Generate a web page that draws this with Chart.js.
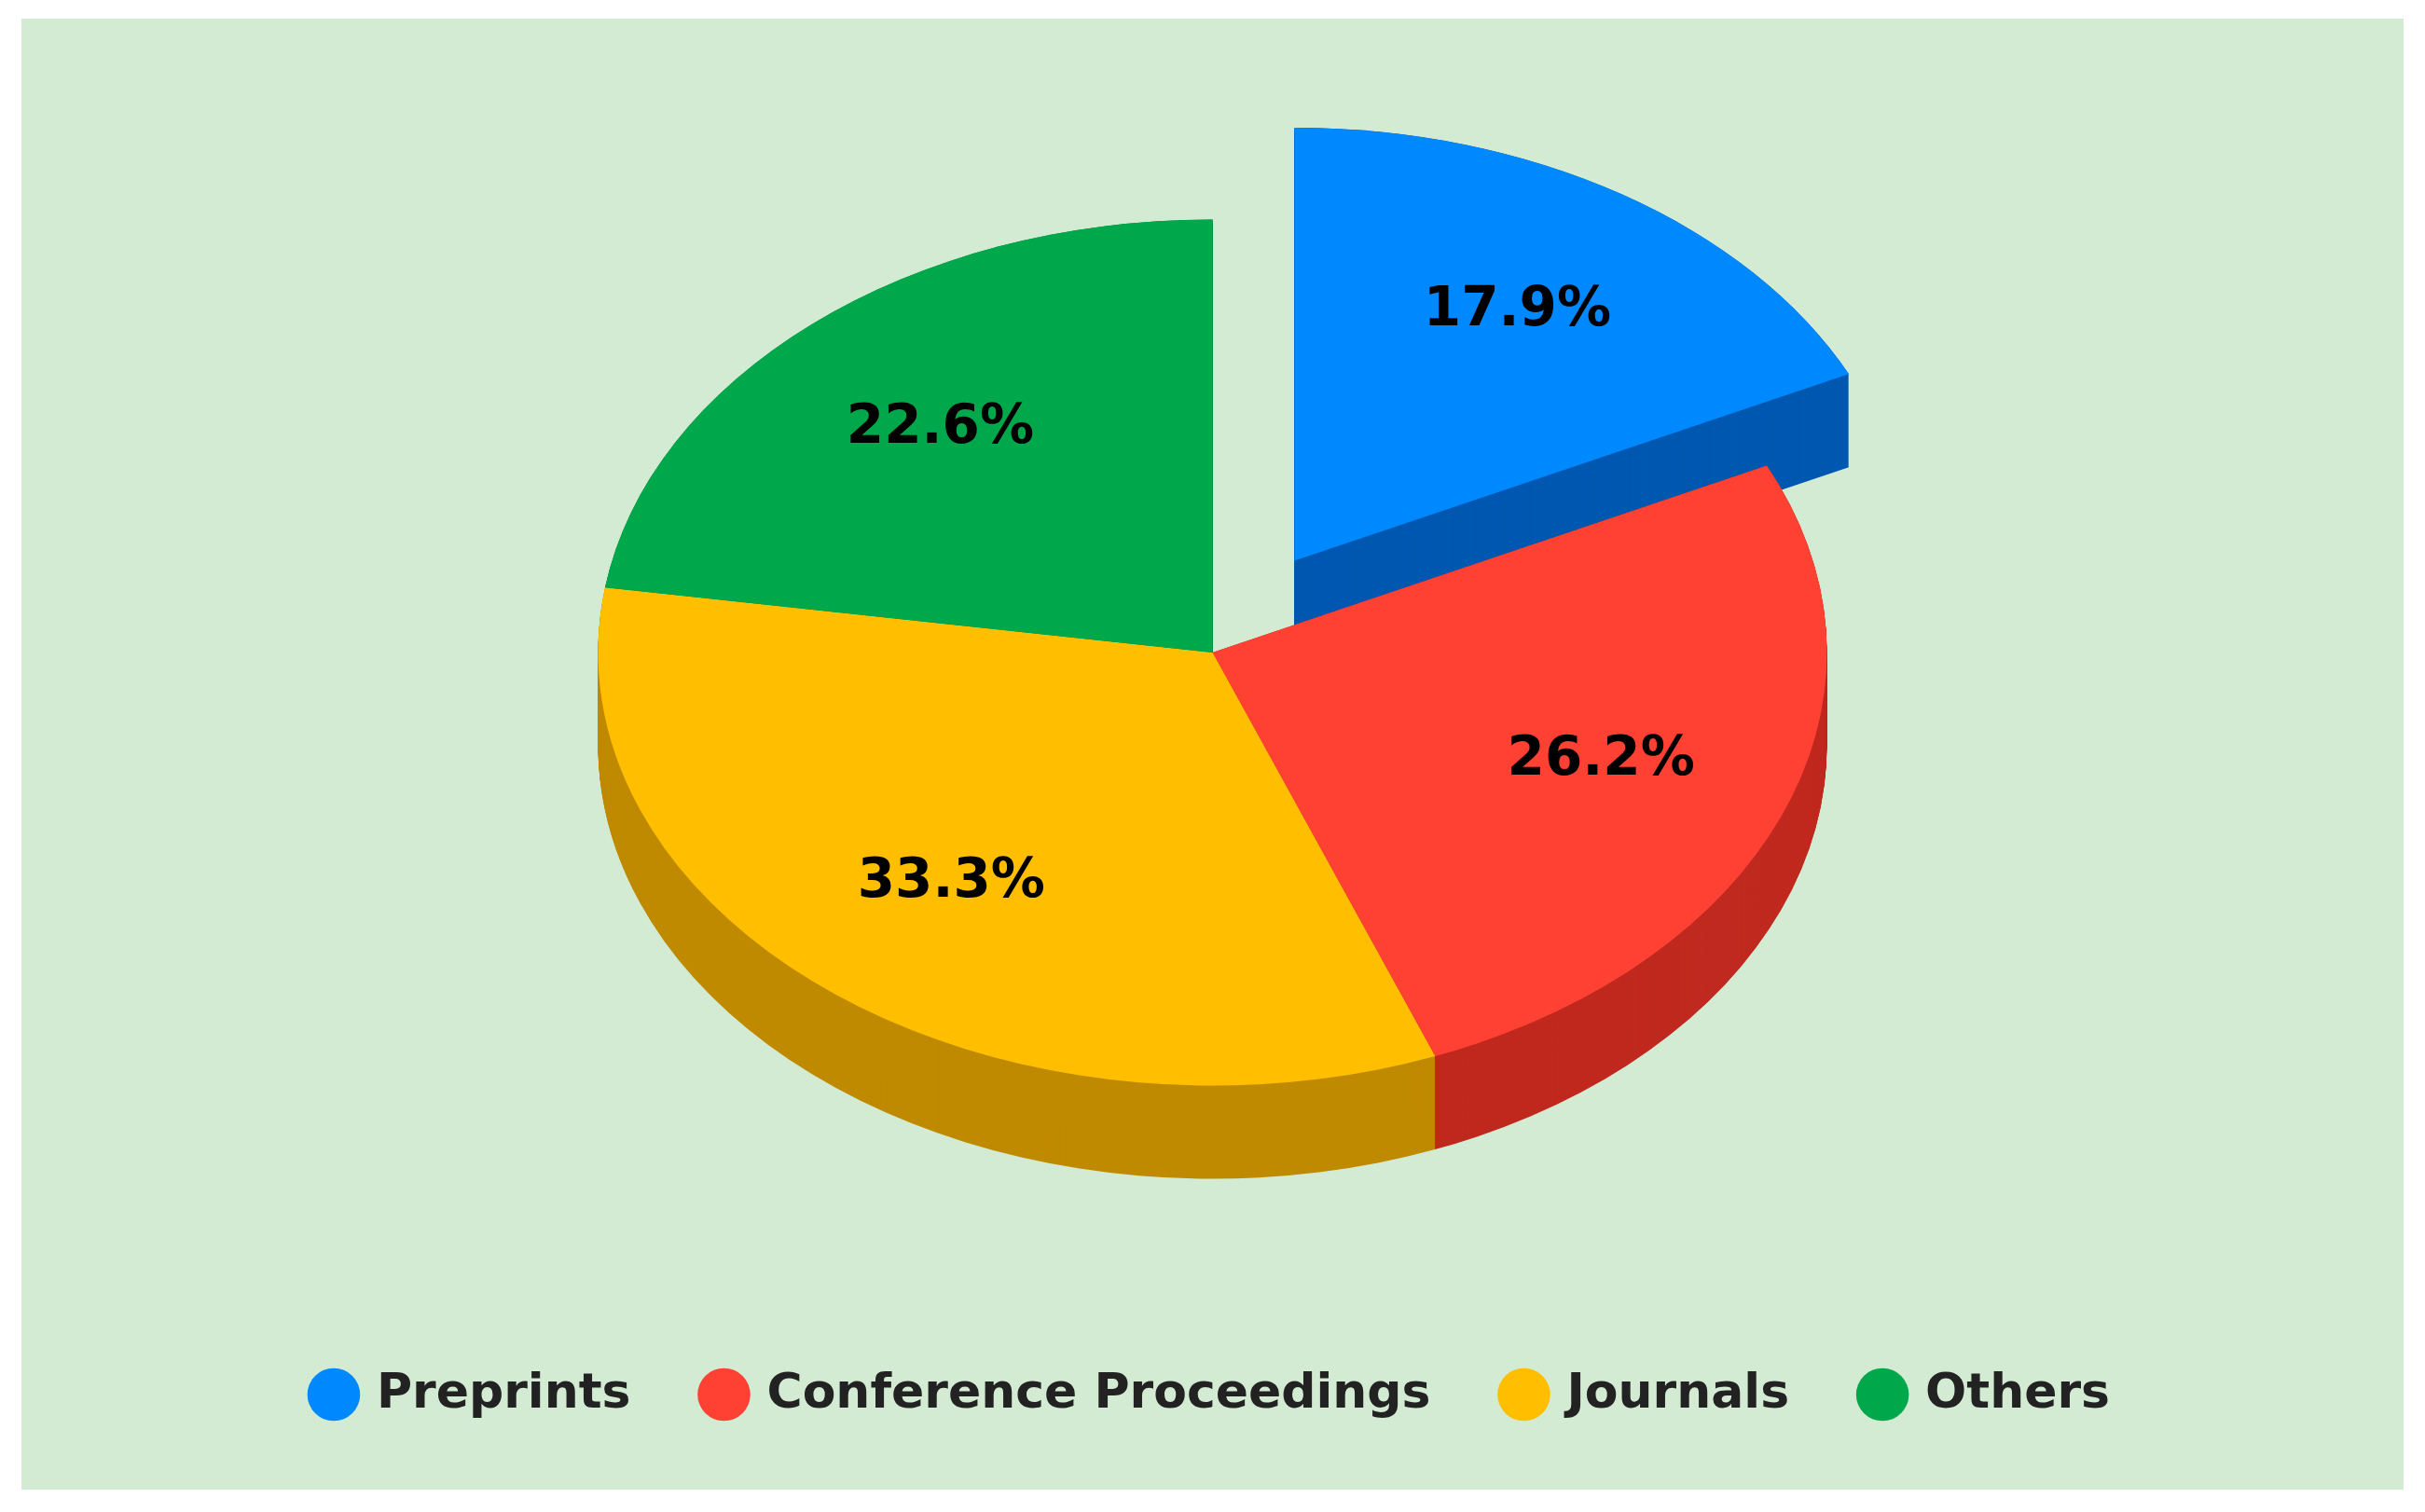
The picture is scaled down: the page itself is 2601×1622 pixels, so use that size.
<!DOCTYPE html>
<html>
<head>
<meta charset="utf-8">
<script src="https://cdn.jsdelivr.net/npm/chart.js@4/dist/chart.umd.min.js"></script>
<style>
  html, body { margin: 0; padding: 0; background: #fff; }
  #wrap { width: 2601px; height: 1622px; }
</style>
</head>
<body>
<div id="wrap"><canvas id="pie"></canvas></div>
<script>
const labels = ["Preprints", "Conference Proceedings", "Journals", "Others"];
const shares = [17.9, 26.2, 33.3, 22.6];
const topColors = ["#0088FF", "#FF4133", "#FFBF00", "#00A84C"];
const sideColors = ["#0058B0", "#C0291F", "#BF8A00", "#007F3A"];
const offsets = [165, 0, 0, 0];

const TILT = 0.705;   // vertical squash for the 3D look
const DEPTH = 100;    // extrusion height in px

function arcPath(ctx, el, off, dy) {
  const mid = (el.startAngle + el.endAngle) / 2;
  const ox = Math.cos(mid) * off, oy = Math.sin(mid) * off;
  ctx.beginPath();
  ctx.moveTo(el.x + ox, el.y + oy + dy);
  ctx.arc(el.x + ox, el.y + oy + dy, el.outerRadius, el.startAngle, el.endAngle);
  ctx.closePath();
}

const pie3d = {
  id: "pie3d",
  beforeDraw(chart) {
    const c = chart.ctx;
    c.save();
    c.fillStyle = "#D3EBD3";
    c.fillRect(23, 20, 2555, 1578);
    c.restore();
  },
  beforeDatasetsDraw(chart) {
    const c = chart.ctx;
    const meta = chart.getDatasetMeta(0);
    const el0 = meta.data[0];
    c.save();
    c.translate(el0.x, el0.y);
    c.scale(1, TILT);
    c.translate(-el0.x, -el0.y);
    for (let d = DEPTH; d >= 0; d -= 1) {
      meta.data.forEach((el, i) => {
        c.fillStyle = sideColors[i];
        arcPath(c, el, offsets[i], d / TILT);
        c.fill();
      });
    }
    // tops drawn here so the explosion distance is exact
    meta.data.forEach((el, i) => {
      c.fillStyle = topColors[i];
      arcPath(c, el, offsets[i], 0);
      c.fill();
    });
    c.restore();
    return false;
  },
  afterDraw(chart) {
    const c = chart.ctx;
    const meta = chart.getDatasetMeta(0);
    c.save();
    c.font = "900 58px 'DejaVu Sans'";
    c.fillStyle = "#000";
    c.textAlign = "center";
    c.textBaseline = "middle";
    meta.data.forEach((el, i) => {
      const mid = (el.startAngle + el.endAngle) / 2;
      const r = el.outerRadius * 0.68 + offsets[i];
      const x = el.x + Math.cos(mid) * r;
      const y = el.y + Math.sin(mid) * r * TILT;
      c.fillText(shares[i].toFixed(1) + "%", x, y);
    });
    c.restore();
  }
};

new Chart(document.getElementById("pie"), {
  type: "pie",
  data: {
    labels: labels,
    datasets: [{
      data: shares,
      backgroundColor: topColors,
      borderWidth: 0,
      radius: 659,
    }],
  },
  options: {
    responsive: true,
    maintainAspectRatio: false,
    animation: false,
    layout: { padding: { top: 10, bottom: 90 } },
    plugins: {
      tooltip: { enabled: false },
      legend: {
        position: "bottom",
        labels: {
          usePointStyle: true,
          pointStyle: "circle",
          boxWidth: 40,
          boxHeight: 40,
          padding: 80,
          color: "#222",
          font: { family: "'DejaVu Sans'", weight: "bold", size: 52 },
        },
      },
    },
  },
  plugins: [pie3d],
});
</script>
</body>
</html>
